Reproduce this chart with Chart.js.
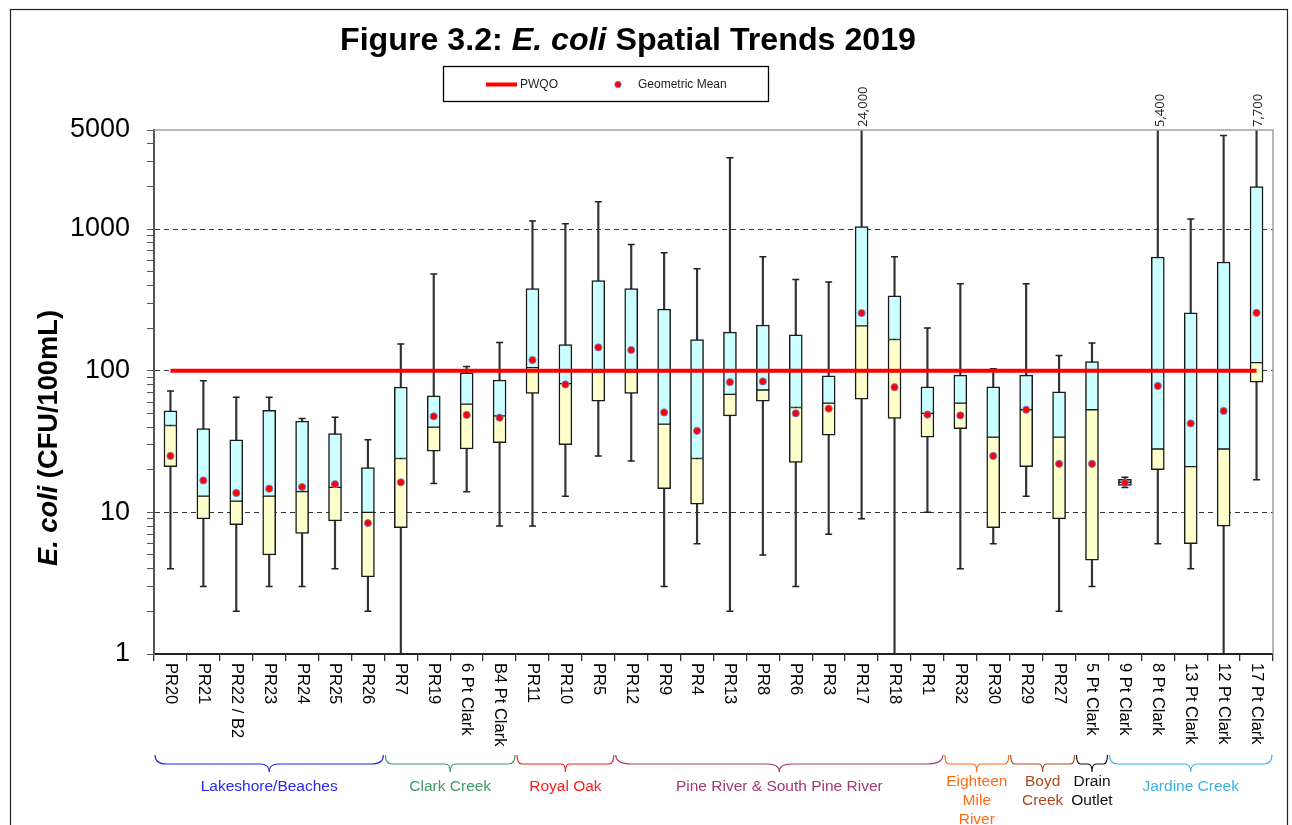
<!DOCTYPE html>
<html><head><meta charset="utf-8">
<script src="https://cdn.jsdelivr.net/npm/chart.js@4.4.1/dist/chart.umd.min.js"></script>
<style>html,body{margin:0;padding:0;background:#fff;}canvas{display:block;}</style>
</head><body>
<canvas id="c" width="1292" height="825"></canvas>
<script>
// ---------- data ----------
const categories = ['PR20','PR21','PR22 / B2','PR23','PR24','PR25','PR26','PR7','PR19','6 Pt Clark','B4 Pt Clark','PR11','PR10','PR5','PR12','PR9','PR4','PR13','PR8','PR6','PR3','PR17','PR18','PR1','PR32','PR30','PR29','PR27','5 Pt Clark','9 Pt Clark','8 Pt Clark','13 Pt Clark','12 Pt Clark','17 Pt Clark'];
const whiskerMin = [4,3,2,3,3,4,2,1,16,14,8,8,13,25,23,3,6,2,5,3,7,9,1,10,4,6,13,2,3,15,6,4,1,17];
const quart1     = [21,9,8.2,5,7.1,8.7,3.5,7.8,27,28,31,69,30,61,69,14.7,11.4,48,61,22.5,35,63,46,34,39,7.8,21,9,4.6,15.5,20,6,8,83];
const medians    = [41,13,12,13,14,15,10,24,40,58,48,105,81,98,98,42,24,68,73,55,59,207,166,50,59,34,53,34,53,16.3,28,21,28,114];
const quart3     = [52,39,32.5,52.5,44,36,20.7,76.5,66.5,96.5,86,380,153,432,380,272,166,187,210,179,92,1042,337,77,93,77,93,71,116,17.1,635,256,585,1990];
const whiskerMax = [72,85,65,65,46,47,32.5,154,481,107,158,1141,1091,1556,778,679,524,3186,638,440,423,24000,638,200,410,103,410,128,157,17.7,5400,1177,4580,7700];
const geoMean    = [25,16.8,13.7,14.7,15.1,15.8,8.4,16.3,47.6,48.7,46.6,119,80,146,140,50.7,37.6,83,84,50,54,255,76.5,49,48.3,25,53,22,22,16.1,78,42.4,52,256];
const pwqoValue = 100;
const yTickLabels = [1,10,100,1000,5000];
const yDashedGrid = [10,100,1000];
const groupNames  = [['Lakeshore/Beaches'],['Clark Creek'],['Royal Oak'],['Pine River & South Pine River'],['Eighteen','Mile','River'],['Boyd','Creek'],['Drain','Outlet'],['Jardine Creek']];
const groupSizes  = [7,4,3,10,2,2,1,5];
const groupColors = ['#2828f0','#3f9a66','#ff1a1a','#a23a72','#ff6a13','#a8481c','#111111','#3fb2de'];

const FONT = "'Liberation Sans', Arial, sans-serif";

function drawRich(ctx, parts, size, cx, baseY, targetW) {
  let widths = parts.map(p => { ctx.font = `${p[1]} ${size}px ${FONT}`; return ctx.measureText(p[0]).width; });
  const total = widths.reduce((a,b)=>a+b,0);
  const s = targetW / total;
  ctx.save();
  ctx.translate(cx - targetW/2, baseY);
  ctx.scale(s, 1);
  let xx = 0;
  ctx.textAlign = 'left';
  parts.forEach((p,i) => { ctx.font = `${p[1]} ${size}px ${FONT}`; ctx.fillText(p[0], xx, 0); xx += widths[i]; });
  ctx.restore();
}

function brace(ctx, x1, x2, yTop, yMid, yTip) {
  const xm = (x1 + x2) / 2, w = x2 - x1;
  const e = Math.min(Math.max(w * 0.05, 4), 16);
  const t = Math.min(Math.max(w * 0.04, 4), 12);
  ctx.beginPath();
  ctx.moveTo(x1, yTop);
  ctx.quadraticCurveTo(x1, yMid, x1 + e, yMid);
  ctx.lineTo(xm - t, yMid);
  ctx.quadraticCurveTo(xm, yMid, xm, yTip);
  ctx.quadraticCurveTo(xm, yMid, xm + t, yMid);
  ctx.lineTo(x2 - e, yMid);
  ctx.quadraticCurveTo(x2, yMid, x2, yTop);
  ctx.stroke();
}

const decor = {
  id: 'decor',
  afterDraw(chart) {
    const {ctx, chartArea: a, scales: {x, y}} = chart;
    ctx.save();
    // figure frame
    ctx.strokeStyle = '#222'; ctx.lineWidth = 1.2;
    ctx.strokeRect(10.5, 9.5, 1277, 840);
    // plot frame (top/right)
    ctx.strokeStyle = '#a0a0a0'; ctx.lineWidth = 1.5;
    ctx.beginPath(); ctx.moveTo(a.left, a.top); ctx.lineTo(a.right, a.top); ctx.lineTo(a.right, a.bottom); ctx.stroke();

    // title
    ctx.fillStyle = '#000'; ctx.textBaseline = 'alphabetic';
    drawRich(ctx, [['Figure 3.2: ','bold'],['E. coli','italic bold'],[' Spatial Trends 2019','bold']], 32, 628, 50, 576);

    // y title
    ctx.save(); ctx.translate(57, 438); ctx.rotate(-Math.PI/2);
    drawRich(ctx, [['E. coli','italic bold'],[' (CFU/100mL)','bold']], 27, 0, 0, 256);
    ctx.restore();

    // legend
    ctx.strokeStyle = '#000'; ctx.lineWidth = 1.3;
    ctx.strokeRect(443.5, 66.5, 325, 35);
    ctx.strokeStyle = '#ff0000'; ctx.lineWidth = 4;
    ctx.beginPath(); ctx.moveTo(486, 84.5); ctx.lineTo(517, 84.5); ctx.stroke();
    ctx.fillStyle = '#ff0000'; ctx.strokeStyle = 'rgba(110,130,220,0.9)'; ctx.lineWidth = 1;
    ctx.beginPath(); ctx.arc(618, 84.5, 3.2, 0, Math.PI*2); ctx.fill(); ctx.stroke();
    ctx.fillStyle = '#222'; ctx.font = `12px ${FONT}`; ctx.textAlign = 'left'; ctx.textBaseline = 'middle';
    ctx.fillText(chart.data.datasets[1].label, 520, 85);
    ctx.fillText(chart.data.datasets[0].label, 638, 85);

    // x labels (rotated clockwise)
    ctx.fillStyle = '#000'; ctx.font = `16.5px ${FONT}`; ctx.textAlign = 'left'; ctx.textBaseline = 'middle';
    categories.forEach((c, i) => {
      const px = x.getPixelForValue(i);
      ctx.save(); ctx.translate(px, a.bottom + 9); ctx.rotate(Math.PI/2); ctx.fillText(c, 0, 0); ctx.restore();
    });

    // overflow labels
    ctx.fillStyle = '#222'; ctx.font = `13px 'Open Sans', ${FONT}`;
    whiskerMax.forEach((v, i) => {
      if (v > y.max) {
        const px = x.getPixelForValue(i);
        ctx.save(); ctx.translate(px + 2, a.top - 3); ctx.rotate(-Math.PI/2);
        ctx.textAlign = 'left'; ctx.textBaseline = 'middle';
        ctx.fillText(v.toLocaleString('en-US'), 0, 0); ctx.restore();
      }
    });

    // group braces + labels
    let start = 0;
    ctx.lineWidth = 1.2; ctx.font = `15.5px ${FONT}`; ctx.textAlign = 'center'; ctx.textBaseline = 'middle';
    groupSizes.forEach((n, g) => {
      const x1 = x.getPixelForValue(start - 0.5), x2 = x.getPixelForValue(start + n - 0.5);
      ctx.strokeStyle = groupColors[g]; ctx.fillStyle = groupColors[g];
      brace(ctx, x1 + 1, x2 - 1, 755, 764, 772);
      const lines = groupNames[g];
      const y0 = lines.length === 1 ? 787 : 782;
      lines.forEach((t, k) => ctx.fillText(t, (x1 + x2) / 2, y0 + k * 19));
      start += n;
    });
    ctx.restore();
  }
};

const boxBorder = '#1a1a1a';
new Chart(document.getElementById('c'), {
  type: 'bar',
  data: {
    labels: categories,
    datasets: [
      { type: 'line', label: 'Geometric Mean', data: geoMean, showLine: false, pointStyle: 'circle',
        pointRadius: 3.6, pointBackgroundColor: '#ff0000', pointBorderColor: 'rgba(110,130,220,0.9)', pointBorderWidth: 1, order: 0 },
      { type: 'line', label: 'PWQO', data: categories.map(() => pwqoValue), borderColor: '#ff0000', borderWidth: 4,
        pointRadius: 0, fill: false, order: 1 },
      { type: 'line', label: 'max', data: whiskerMax, showLine: false, pointStyle: 'line', pointRadius: 3.5,
        pointBorderColor: '#222', pointBorderWidth: 1.5, order: 2 },
      { type: 'line', label: 'min', data: whiskerMin, showLine: false, pointStyle: 'line', pointRadius: 3.5,
        pointBorderColor: '#222', pointBorderWidth: 1.5, order: 2 },
      { type: 'bar', label: 'upper', data: medians.map((m, i) => [m, quart3[i]]), backgroundColor: '#ccffff',
        borderColor: boxBorder, borderWidth: {left: 1.5, right: 1.5, top: 1.5, bottom: 1}, borderSkipped: false,
        barThickness: 13, grouped: false, order: 3 },
      { type: 'bar', label: 'lower', data: quart1.map((q, i) => [q, medians[i]]), backgroundColor: '#ffffcc',
        borderColor: boxBorder, borderWidth: {left: 1.5, right: 1.5, top: 1, bottom: 1.5}, borderSkipped: false,
        barThickness: 13, grouped: false, order: 3 },
      { type: 'bar', label: 'whisker', data: whiskerMin.map((m, i) => [m, whiskerMax[i]]), backgroundColor: '#333',
        borderWidth: 0, barThickness: 1.5, grouped: false, order: 4 }
    ]
  },
  options: {
    responsive: false, animation: false, events: [], devicePixelRatio: 1,
    layout: { padding: { top: 130, right: 19, left: 0, bottom: 0 } },
    plugins: { legend: { display: false }, tooltip: { enabled: false }, title: { display: false } },
    scales: {
      x: {
        type: 'category', offset: true,
        grid: { offset: true, drawOnChartArea: false, drawTicks: true, tickLength: 7, color: '#333', lineWidth: 1.3 },
        border: { color: '#222', width: 2 },
        ticks: { display: false },
        afterFit: s => { s.height = 171; }
      },
      y: {
        type: 'logarithmic', min: 1, max: 5000,
        afterBuildTicks: s => {
          s.ticks = s.ticks.filter(t => {
            const m = t.value / Math.pow(10, Math.floor(Math.log10(t.value) + 1e-9));
            return Math.abs(m - Math.round(m)) < 1e-6;
          });
        },
        grid: {
          color: c => (c.tick && yDashedGrid.includes(c.tick.value)) ? '#333' : 'rgba(0,0,0,0)',
          tickColor: '#555', tickLength: 7, lineWidth: 1
        },
        border: { color: '#555', width: 2, dash: [5, 4] },
        ticks: {
          autoSkip: false, color: '#000', padding: 17, font: { family: FONT, size: 27 },
          callback: v => yTickLabels.includes(v) ? String(v) : ''
        },
        afterFit: s => { s.width = 154; }
      }
    }
  },
  plugins: [decor]
});
</script>
</body></html>
